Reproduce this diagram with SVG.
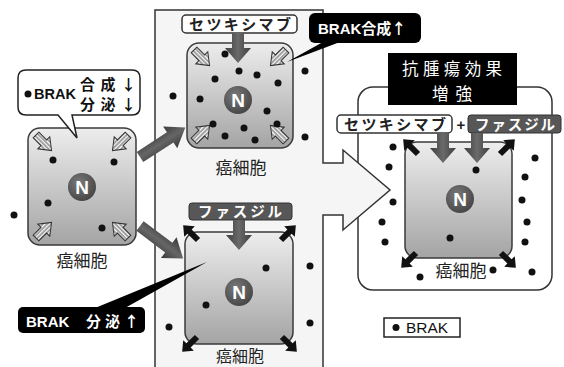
<svg xmlns="http://www.w3.org/2000/svg" width="564" height="367" viewBox="0 0 564 367">
  <style>
    .cell { fill: url(#cellFill); stroke: #3a3a3a; stroke-width: 1.5; }
    .nuc { font-family: "Liberation Sans", Arial, sans-serif; font-weight: bold; font-size: 19px; fill: #fff; text-anchor: middle; }
    .jp { font-family: "Noto Sans CJK JP", "Noto Sans", sans-serif; }
    .lbl { font-size: 17px; fill: #222; text-anchor: middle; }
    .dot { fill: #111; }
    .big { fill: url(#bigArrowFill); }
    .drug { fill: url(#drugArrowFill); }
    .out { fill: #111; }
    .in { fill: url(#hatch); stroke: #333; stroke-width: 1; }
    .brak { font-family: "Liberation Sans", Arial, sans-serif; font-weight: bold; }
  </style>
  <defs>
    <linearGradient id="cellFill" x1="0" y1="0" x2="0" y2="1">
      <stop offset="0" stop-color="#ededed"/>
      <stop offset="1" stop-color="#a4a4a4"/>
    </linearGradient>
    <radialGradient id="nucFill" cx="0.4" cy="0.35" r="0.7">
      <stop offset="0" stop-color="#7a7a7a"/>
      <stop offset="1" stop-color="#444"/>
    </radialGradient>
    <linearGradient id="bigArrowFill" x1="0" y1="0" x2="0" y2="1">
      <stop offset="0" stop-color="#3a3a3a"/>
      <stop offset="0.5" stop-color="#666"/>
      <stop offset="1" stop-color="#3a3a3a"/>
    </linearGradient>
    <linearGradient id="drugArrowFill" x1="0" y1="0" x2="1" y2="0">
      <stop offset="0" stop-color="#3e3e3e"/>
      <stop offset="0.5" stop-color="#6a6a6a"/>
      <stop offset="1" stop-color="#3e3e3e"/>
    </linearGradient>
    <pattern id="hatch" patternUnits="userSpaceOnUse" width="4" height="3">
      <rect width="4" height="3" fill="#fff"/>
      <line x1="0" y1="1" x2="4" y2="1" stroke="#444" stroke-width="1"/>
    </pattern>
    <path id="bigArrow" d="M0,-6 H36 V-13 L54,0 L36,13 V6 H0 Z"/>
    <path id="drugArrow" d="M-6,0 H6 V15 H13 L0,30 L-13,15 H-6 Z"/>
    <path id="outArrow" d="M0,-3 H12 V-7.5 L21,0 L12,7.5 V3 H0 Z"/>
    <path id="inArrow" d="M0,-4 H11 V-8.5 L22,0 L11,8.5 V4 H0 Z"/>
  </defs>

  <rect width="564" height="367" fill="#fff"/>

  <!-- combined-treatment frame -->
  <g id="combo-frame">
    <rect x="358" y="87" width="194" height="203" rx="15" fill="#fff" stroke="#333" stroke-width="1.5"/>
  </g>

  <!-- single-drug panel, its right side forming a big arrow -->
  <g id="panel">
    <path d="M155,370 V10 H323 V163 H343 V150 L390,190 L343,230 V215 H323 V370" fill="#f5f5f5" stroke="#333" stroke-width="1.5"/>
  </g>

  <!-- connectors: arrows from the untreated cell -->
  <g id="connectors">
    <use href="#bigArrow" class="big" transform="translate(140,157) rotate(-33)"/>
    <use href="#bigArrow" class="big" transform="translate(140,226) rotate(37)"/>
  </g>

  <!-- untreated cell -->
  <g id="cell-untreated">
    <rect class="cell" x="28" y="128" width="108" height="117" rx="12"/>
    <use href="#inArrow" class="in" transform="translate(36,135) rotate(45)"/>
    <use href="#inArrow" class="in" transform="translate(128,135) rotate(135)"/>
    <use href="#inArrow" class="in" transform="translate(36,238) rotate(-45)"/>
    <use href="#inArrow" class="in" transform="translate(128,238) rotate(-135)"/>
    <circle cx="82" cy="187" r="14" fill="url(#nucFill)"/>
    <text class="nuc" x="82" y="194">N</text>
    <circle class="dot" cx="53" cy="160" r="3.5"/>
    <circle class="dot" cx="114" cy="162" r="3.5"/>
    <circle class="dot" cx="48" cy="203" r="3.5"/>
    <circle class="dot" cx="102" cy="228" r="3.5"/>
    <circle class="dot" cx="14" cy="215" r="3.5"/>
    <text class="jp lbl" x="82" y="267">癌細胞</text>
  </g>

  <!-- callout: reduced synthesis and secretion -->
  <g id="callout-low">
    <path d="M26,70 H132 Q140,70 140,78 V107 Q140,115 132,115 H72 L77,138 L58,115 H26 Q18,115 18,107 V78 Q18,70 26,70 Z" fill="#fff" stroke="#222" stroke-width="1.5"/>
    <circle class="dot" cx="28" cy="94" r="3.5"/>
    <text class="brak" x="34" y="99" font-size="15" textLength="42" lengthAdjust="spacingAndGlyphs" fill="#111">BRAK</text>
    <text class="jp" x="80" y="90" font-size="15" font-weight="bold" fill="#111" textLength="56" lengthAdjust="spacing">合成↓</text>
    <text class="jp" x="80" y="110" font-size="15" font-weight="bold" fill="#111" textLength="56" lengthAdjust="spacing">分泌↓</text>
  </g>

  <!-- cetuximab-treated cell -->
  <g id="cell-cetuximab">
    <rect class="cell" x="187" y="43" width="106" height="105" rx="12"/>
    <use href="#inArrow" class="in" transform="translate(194,50) rotate(45)"/>
    <use href="#inArrow" class="in" transform="translate(286,50) rotate(135)"/>
    <use href="#inArrow" class="in" transform="translate(194,141) rotate(-45)"/>
    <use href="#inArrow" class="in" transform="translate(286,141) rotate(-135)"/>
    <circle cx="238" cy="100" r="14" fill="url(#nucFill)"/>
    <text class="nuc" x="238" y="107">N</text>
    <circle class="dot" cx="225" cy="54" r="3.5"/>
    <circle class="dot" cx="239" cy="71" r="3.5"/>
    <circle class="dot" cx="257" cy="75" r="3.5"/>
    <circle class="dot" cx="215" cy="79" r="3.5"/>
    <circle class="dot" cx="278" cy="83" r="3.5"/>
    <circle class="dot" cx="200" cy="99" r="3.5"/>
    <circle class="dot" cx="267" cy="111" r="3.5"/>
    <circle class="dot" cx="213" cy="124" r="3.5"/>
    <circle class="dot" cx="244" cy="128" r="3.5"/>
    <circle class="dot" cx="277" cy="124" r="3.5"/>
    <circle class="dot" cx="225" cy="136" r="3.5"/>
    <circle class="dot" cx="255" cy="140" r="3.5"/>
    <circle class="dot" cx="173" cy="96" r="3.5"/>
    <circle class="dot" cx="305" cy="71" r="3.5"/>
    <circle class="dot" cx="305" cy="137" r="3.5"/>
    <rect x="182" y="15" width="115" height="18" rx="4" fill="#fff" stroke="#333" stroke-width="1.5"/>
    <text class="jp" x="240" y="30" font-size="15" font-weight="bold" fill="#222" text-anchor="middle" textLength="102" lengthAdjust="spacing">セツキシマブ</text>
    <use href="#drugArrow" class="drug" transform="translate(238,33)"/>
    <text class="jp lbl" x="241" y="174">癌細胞</text>
  </g>

  <!-- callout: increased synthesis -->
  <g id="callout-synth">
    <path d="M323,42 L340,42 L287,62 Z" fill="#000"/>
    <rect x="309" y="13" width="112" height="30" rx="6" fill="#000"/>
    <text class="brak" x="318" y="34" font-size="15" fill="#fff">BRAK<tspan class="jp" font-size="15">合成↑</tspan></text>
  </g>

  <!-- fasudil-treated cell -->
  <g id="cell-fasudil">
    <rect class="cell" x="185" y="232" width="108" height="112" rx="12"/>
    <use href="#outArrow" class="out" transform="translate(198,240) rotate(-135)"/>
    <use href="#outArrow" class="out" transform="translate(281,240) rotate(-45)"/>
    <use href="#outArrow" class="out" transform="translate(197,337) rotate(135)"/>
    <use href="#outArrow" class="out" transform="translate(282,337) rotate(45)"/>
    <circle cx="239" cy="292" r="14" fill="url(#nucFill)"/>
    <text class="nuc" x="239" y="299">N</text>
    <circle class="dot" cx="266" cy="268" r="3.5"/>
    <circle class="dot" cx="206" cy="305" r="3.5"/>
    <circle class="dot" cx="310" cy="266" r="3.5"/>
    <circle class="dot" cx="310" cy="323" r="3.5"/>
    <circle class="dot" cx="169" cy="327" r="3.5"/>
    <rect x="189" y="203" width="103" height="17" rx="3" fill="#575757" stroke="#333" stroke-width="1"/>
    <text class="jp" x="240" y="217" font-size="14.5" font-weight="bold" fill="#fff" text-anchor="middle" textLength="84" lengthAdjust="spacing">ファスジル</text>
    <use href="#drugArrow" class="drug" transform="translate(239,220)"/>
    <text class="jp" x="240" y="362" font-size="16" fill="#222" text-anchor="middle">癌細胞</text>
  </g>

  <!-- callout: increased secretion -->
  <g id="callout-secrete">
    <path d="M95,308 L125,308 L207,262 Z" fill="#000"/>
    <rect x="18" y="307" width="127" height="26" rx="5" fill="#000"/>
    <text class="brak" x="26" y="327" font-size="15" fill="#fff">BRAK</text>
    <text class="jp" x="86" y="327" font-size="15" font-weight="bold" fill="#fff" textLength="53" lengthAdjust="spacing">分泌↑</text>
  </g>

  <!-- enhanced antitumour effect heading -->
  <g id="effect-label">
    <rect x="388" y="53" width="129" height="52" fill="#000"/>
    <text class="jp" x="452" y="75" font-size="16.5" fill="#fff" text-anchor="middle" textLength="100" lengthAdjust="spacing">抗腫瘍効果</text>
    <text class="jp" x="452" y="99.5" font-size="16.5" fill="#fff" text-anchor="middle" textLength="40" lengthAdjust="spacing">増強</text>
  </g>

  <!-- cell treated with both drugs -->
  <g id="cell-combined">
    <rect class="cell" x="405" y="142" width="107" height="116" rx="12"/>
    <use href="#outArrow" class="out" transform="translate(418,154) rotate(-135)"/>
    <use href="#outArrow" class="out" transform="translate(500,154) rotate(-45)"/>
    <use href="#outArrow" class="out" transform="translate(416,253) rotate(135)"/>
    <use href="#outArrow" class="out" transform="translate(501,253) rotate(45)"/>
    <circle cx="460" cy="199" r="14" fill="url(#nucFill)"/>
    <text class="nuc" x="460" y="206">N</text>
    <circle class="dot" cx="476" cy="170" r="3.5"/>
    <circle class="dot" cx="450" cy="238" r="3.5"/>
    <circle class="dot" cx="393" cy="147" r="3.5"/>
    <circle class="dot" cx="389" cy="167" r="3.5"/>
    <circle class="dot" cx="393" cy="202" r="3.5"/>
    <circle class="dot" cx="382" cy="222" r="3.5"/>
    <circle class="dot" cx="385" cy="242" r="3.5"/>
    <circle class="dot" cx="535" cy="158" r="3.5"/>
    <circle class="dot" cx="525" cy="177" r="3.5"/>
    <circle class="dot" cx="522" cy="200" r="3.5"/>
    <circle class="dot" cx="527" cy="222" r="3.5"/>
    <circle class="dot" cx="525" cy="242" r="3.5"/>
    <circle class="dot" cx="532" cy="272" r="3.5"/>
    <circle class="dot" cx="420" cy="277" r="3.5"/>
    <circle class="dot" cx="493" cy="270" r="3.5"/>
    <rect x="337" y="115" width="115" height="18" rx="4" fill="#fff" stroke="#333" stroke-width="1.5"/>
    <text class="jp" x="395" y="130" font-size="15" font-weight="bold" fill="#222" text-anchor="middle" textLength="102" lengthAdjust="spacing">セツキシマブ</text>
    <text class="brak" x="461" y="130" font-size="15" fill="#222" text-anchor="middle">+</text>
    <rect x="468" y="115" width="93" height="18" rx="3" fill="#575757" stroke="#333" stroke-width="1"/>
    <text class="jp" x="515" y="130" font-size="14.5" font-weight="bold" fill="#fff" text-anchor="middle" textLength="80" lengthAdjust="spacing">ファスジル</text>
    <use href="#drugArrow" class="drug" transform="translate(443,133)"/>
    <use href="#drugArrow" class="drug" transform="translate(477,133)"/>
    <text class="jp lbl" x="461" y="277">癌細胞</text>
  </g>

  <!-- legend -->
  <g id="legend">
    <rect x="384" y="318" width="76" height="19" fill="#fff" stroke="#222" stroke-width="1.5"/>
    <circle class="dot" cx="396" cy="327.5" r="3.5"/>
    <text x="406" y="333" font-family="Liberation Sans, Arial, sans-serif" font-size="15" fill="#111" textLength="42" lengthAdjust="spacingAndGlyphs">BRAK</text>
  </g>
</svg>
